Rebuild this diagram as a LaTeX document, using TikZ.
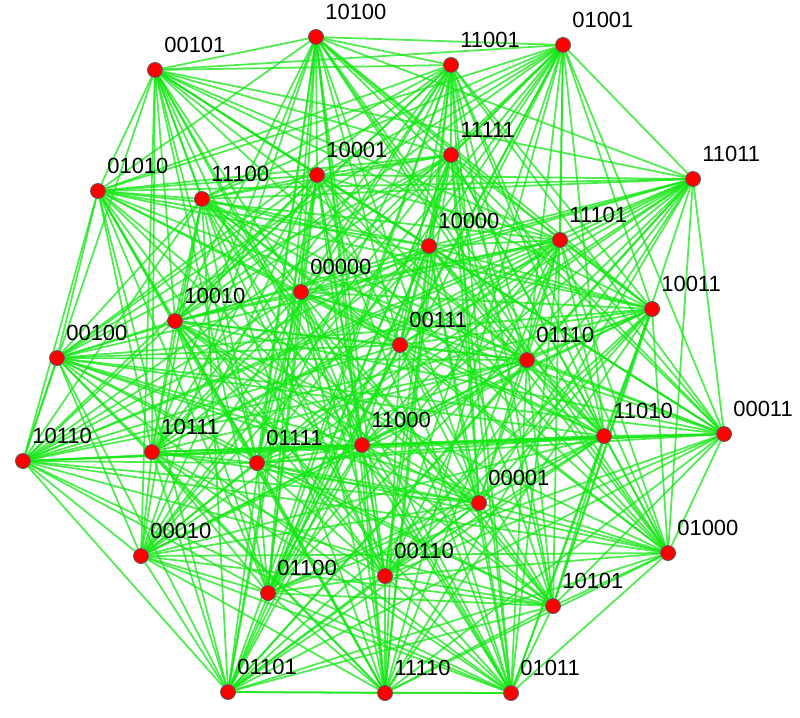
\documentclass[tikz,border=0pt]{standalone}
\usepackage{fontspec}
\setmainfont{Liberation Sans}
\pgfdeclarelayer{bg}
\pgfsetlayers{bg,main}

% all 32 words, in binary order
\def\allbits{00000,00001,00010,00011,00100,00101,00110,00111,
  01000,01001,01010,01011,01100,01101,01110,01111,
  10000,10001,10010,10011,10100,10101,10110,10111,
  11000,11001,11010,11011,11100,11101,11110,11111}

\newcommand{\bitnode}[3]{%
  \node[vtx] (v#1) at (#2,#3) {};
  \node[lbl] (l#1) at ([shift={(9,-17.5)}]v#1) {#1};}

\begin{document}
\begin{tikzpicture}[x=0.02cm, y=-0.02cm,
    vtx/.style={circle, draw=black!65, line width=0.5pt, fill=red,
      inner sep=0pt, minimum size=0.3cm},
    lbl/.style={font=\fontsize{12.5}{14}\selectfont, inner sep=0pt,
      anchor=base west},
    link/.style={draw={rgb,255:red,20;green,230;blue,20}, draw opacity=0.75,
      line width=1pt}]
  \useasboundingbox (0,0) rectangle (800,717);

  \bitnode{10100}{316}{37}
  \bitnode{00101}{155}{70}
  \bitnode{11001}{451}{65}
  \bitnode{01001}{563}{45}
  \bitnode{11111}{451}{155}
  \bitnode{11011}{693}{179}
  \bitnode{01010}{98}{191}
  \bitnode{11100}{202}{199}
  \bitnode{10001}{317}{175}
  \bitnode{10000}{429}{246}
  \bitnode{11101}{560}{240}
  \bitnode{00000}{301}{292}
  \bitnode{10011}{652}{309}
  \bitnode{10010}{175}{321}
  \bitnode{00111}{400}{345}
  \bitnode{01110}{527}{360}
  \bitnode{00100}{57}{358}
  \bitnode{11010}{604}{436}
  \bitnode{00011}{724}{434}
  \bitnode{10110}{23}{461}
  \bitnode{10111}{152}{452}
  \bitnode{01111}{257}{463}
  \bitnode{11000}{362}{445}
  \bitnode{00001}{479}{503}
  \bitnode{00010}{141}{556}
  \bitnode{01000}{668}{553}
  \bitnode{01100}{268}{593}
  \bitnode{00110}{385}{576}
  \bitnode{10101}{553}{606}
  \bitnode{01101}{228}{692}
  \bitnode{11110}{385}{693}
  \bitnode{01011}{511}{693}

  % join words that differ in 2, 3 or 4 places
  \begin{pgfonlayer}{bg}
    \foreach \p [count=\i] in \allbits {
      \foreach \q [count=\j] in \allbits {
        \ifnum\i<\j
          \pgfmathtruncatemacro\hd{mod(\i+\j-2,2)
            + mod(floor((\i-1)/2)+floor((\j-1)/2),2)
            + mod(floor((\i-1)/4)+floor((\j-1)/4),2)
            + mod(floor((\i-1)/8)+floor((\j-1)/8),2)
            + mod(floor((\i-1)/16)+floor((\j-1)/16),2)}
          \ifnum\hd>1 \ifnum\hd<5
            \draw[link] (v\p) -- (v\q);
          \fi\fi
        \fi
      }
    }
  \end{pgfonlayer}
\end{tikzpicture}
\end{document}
